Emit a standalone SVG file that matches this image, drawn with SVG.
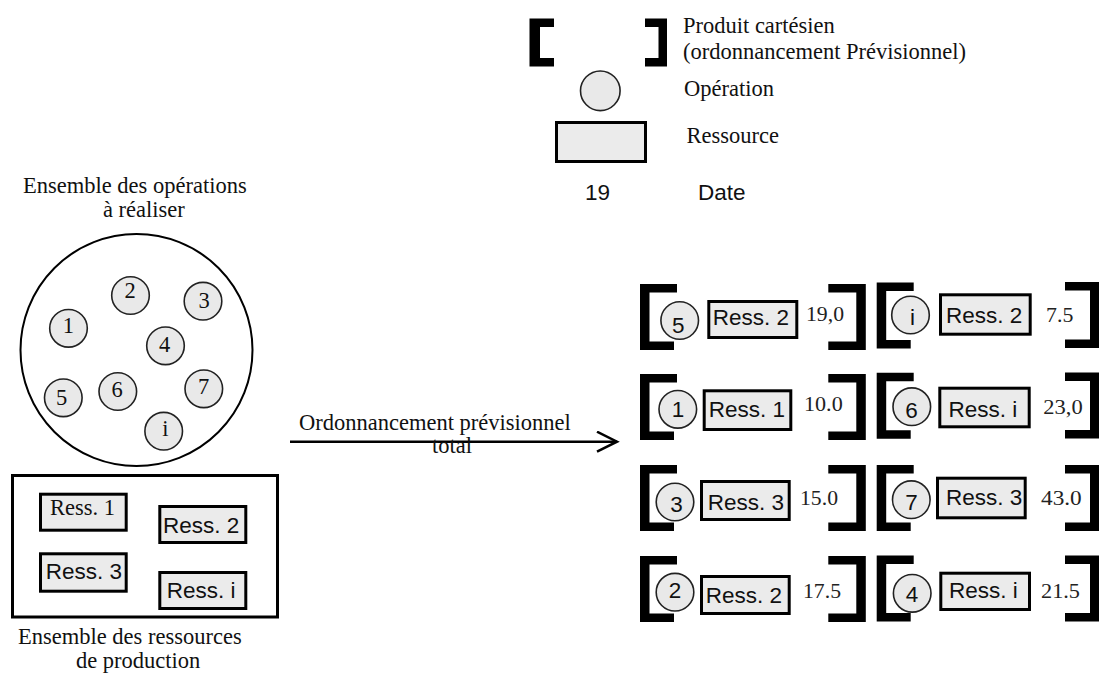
<svg xmlns="http://www.w3.org/2000/svg" width="1099" height="673" viewBox="0 0 1099 673">
  <style>
    .serif { font-family: "Liberation Serif", "Times New Roman", serif; font-size: 22.5px; fill: #111; }
    .sans { font-family: "Liberation Sans", Arial, sans-serif; font-size: 22.5px; fill: #111; }
    .date { font-family: "Liberation Serif", "Times New Roman", serif; font-size: 20px; fill: #222; }
    .op { fill: #e9e9e9; stroke: #222; stroke-width: 1.6; }
    .res { fill: #ebebeb; stroke: #000; stroke-width: 3; }
    .frame { fill: none; stroke: #000; stroke-width: 2; }
    .ink { fill: #000; }
    .mid { text-anchor: middle; }
    .link { fill: none; stroke: #000; stroke-width: 2.5; }
  </style>
  <defs>
    <!-- thick square brackets framing one planned (operation, resource, date) triple -->
    <path id="bl" d="M0,0 H37 V8.5 H9.5 V57.5 H34 V66 H0 Z"/>
    <path id="br" d="M0,0 H37.5 V66 H0 V57.5 H28 V8.5 H0 Z"/>
    <!-- right bracket of the last column, clipped by the page edge -->
    <path id="bre" d="M0,0 H34.5 V66 H0 V57.5 H25 V8.5 H0 Z"/>
    <marker id="chev" markerUnits="userSpaceOnUse" markerWidth="26" markerHeight="26" refX="21" refY="11" orient="auto">
      <path d="M1,1 L21,11 L1,21" fill="none" stroke="#000" stroke-width="2.5"/>
    </marker>
  </defs>
  <rect width="1099" height="673" fill="#fff"/>

  <!-- legend -->
  <g id="legend">
    <path class="ink" d="M529.5,18.5 H554 V27 H540 V58 H554 V66.5 H529.5 Z"/>
    <path class="ink" d="M645,18.5 H667 V66.5 H645 V58 H658.5 V27 H645 Z"/>
    <text class="serif" x="683" y="32.5">Produit cartésien</text>
    <text class="serif" x="683" y="58.5">(ordonnancement Prévisionnel)</text>
    <circle class="op" cx="600.3" cy="90.8" r="19.8"/>
    <text class="serif" x="684" y="96">Opération</text>
    <rect class="res" x="556.5" y="122.5" width="89" height="39"/>
    <text class="serif" x="686.5" y="143.3">Ressource</text>
    <text class="sans" x="585" y="199.5">19</text>
    <text class="sans" x="698" y="199.5">Date</text>
  </g>

  <!-- set of operations to schedule -->
  <g id="operations">
    <text class="serif" x="23" y="192.7">Ensemble des opérations</text>
    <text class="serif" x="103" y="217">à réaliser</text>
    <circle class="frame" cx="136.5" cy="350" r="116"/>
    <circle class="op" cx="68.5" cy="328.3" r="18.8"/><text class="serif mid" x="68.3" y="333.3">1</text>
    <circle class="op" cx="130.5" cy="295.5" r="18.8"/><text class="serif mid" x="130" y="298.3">2</text>
    <circle class="op" cx="203" cy="301.2" r="18.8"/><text class="serif mid" x="204.2" y="308.3">3</text>
    <circle class="op" cx="165.5" cy="345.8" r="18.8"/><text class="serif mid" x="164.5" y="351.7">4</text>
    <circle class="op" cx="63.3" cy="397.8" r="18.8"/><text class="serif mid" x="61.7" y="405">5</text>
    <circle class="op" cx="117.8" cy="391.5" r="18.8"/><text class="serif mid" x="117" y="397.3">6</text>
    <circle class="op" cx="203.8" cy="388.8" r="18.8"/><text class="serif mid" x="203.7" y="394">7</text>
    <circle class="op" cx="163.7" cy="431.2" r="18.8"/><text class="serif mid" x="165.5" y="436">i</text>
  </g>

  <!-- set of production resources -->
  <g id="resources">
    <rect x="12.5" y="475.5" width="265" height="141.5" fill="none" stroke="#000" stroke-width="3"/>
    <rect class="res" x="40.5" y="494.2" width="85.7" height="36"/><text class="serif" x="50" y="515">Ress. 1</text>
    <rect class="res" x="159.8" y="506.5" width="86" height="36"/><text class="sans" x="163" y="532.7">Ress. 2</text>
    <rect class="res" x="40.5" y="553.8" width="85.7" height="37.4"/><text class="sans" x="45.7" y="579">Ress. 3</text>
    <rect class="res" x="159.8" y="572.5" width="86" height="36"/><text class="sans" x="166.7" y="597.7">Ress. i</text>
    <text class="serif" x="18" y="644">Ensemble des ressources</text>
    <text class="serif" x="76" y="668">de production</text>
  </g>

  <!-- connector -->
  <g id="connectors">
    <line class="link" x1="290" y1="441.7" x2="617" y2="441.7" marker-end="url(#chev)"/>
    <text class="serif" x="299" y="430">Ordonnancement prévisionnel</text>
    <text class="serif" x="432" y="453">total</text>
  </g>

  <!-- planned schedule: column 1 -->
  <g id="plan-5">
    <use href="#bl" x="640" y="284"/><use href="#br" x="828.3" y="284"/>
    <circle class="op" cx="679.7" cy="320.5" r="18.8"/><text class="sans mid" x="678.3" y="333">5</text>
    <rect class="res" x="708.8" y="301.5" width="88" height="36"/><text class="sans mid" x="750.8" y="325">Ress. 2</text>
    <text class="date" x="806" y="320.7" textLength="38" lengthAdjust="spacingAndGlyphs">19,0</text>
  </g>
  <g id="plan-1">
    <use href="#bl" x="640" y="374"/><use href="#br" x="828.3" y="374"/>
    <circle class="op" cx="677.8" cy="409.3" r="18.8"/><text class="sans mid" x="678" y="416.7">1</text>
    <rect class="res" x="704.2" y="390.8" width="86.6" height="38.7"/><text class="sans mid" x="747" y="416.7">Ress. 1</text>
    <text class="date" x="804" y="411" textLength="38.7" lengthAdjust="spacingAndGlyphs">10.0</text>
  </g>
  <g id="plan-3">
    <use href="#bl" x="640" y="465"/><use href="#br" x="828.3" y="465"/>
    <circle class="op" cx="675" cy="502" r="18.8"/><text class="sans mid" x="676.5" y="511.7">3</text>
    <rect class="res" x="701.5" y="481.5" width="87.7" height="38"/><text class="sans mid" x="745.8" y="510">Ress. 3</text>
    <text class="date" x="800" y="505" textLength="38" lengthAdjust="spacingAndGlyphs">15.0</text>
  </g>
  <g id="plan-2">
    <use href="#bl" x="640" y="556"/><use href="#br" x="828.3" y="556"/>
    <circle class="op" cx="675" cy="592.2" r="18.8"/><text class="sans mid" x="675" y="598.3">2</text>
    <rect class="res" x="701.5" y="576.5" width="87.7" height="37"/><text class="sans mid" x="743.8" y="603.3">Ress. 2</text>
    <text class="date" x="803" y="598" textLength="38" lengthAdjust="spacingAndGlyphs">17.5</text>
  </g>

  <!-- planned schedule: column 2 -->
  <g id="plan-i">
    <use href="#bl" x="876.7" y="282.5"/><use href="#bre" x="1065" y="282"/>
    <circle class="op" cx="910.5" cy="315" r="18.8"/><text class="sans mid" x="912.5" y="325">i</text>
    <rect class="res" x="940.5" y="294.8" width="89.7" height="39.4"/><text class="sans mid" x="984.2" y="323.3">Ress. 2</text>
    <text class="date" x="1046" y="321.7" textLength="27.3" lengthAdjust="spacingAndGlyphs">7.5</text>
  </g>
  <g id="plan-6">
    <use href="#bl" x="876.7" y="372.7"/><use href="#bre" x="1065" y="372.5"/>
    <circle class="op" cx="911.8" cy="406.7" r="18.8"/><text class="sans mid" x="911.5" y="418.3">6</text>
    <rect class="res" x="939.8" y="388.2" width="89.4" height="38.6"/><text class="sans mid" x="983" y="416.7">Ress. i</text>
    <text class="date" x="1043.3" y="414" textLength="39.4" lengthAdjust="spacingAndGlyphs">23,0</text>
  </g>
  <g id="plan-7">
    <use href="#bl" x="876.7" y="465"/><use href="#bre" x="1065" y="465"/>
    <circle class="op" cx="911.3" cy="499.7" r="18.8"/><text class="sans mid" x="911.5" y="510">7</text>
    <rect class="res" x="937.5" y="478.2" width="87.7" height="39.6"/><text class="sans mid" x="984.2" y="505">Ress. 3</text>
    <text class="date" x="1041" y="505" textLength="40.7" lengthAdjust="spacingAndGlyphs">43.0</text>
  </g>
  <g id="plan-4">
    <use href="#bl" x="876.7" y="555.5"/><use href="#bre" x="1065" y="555.5"/>
    <circle class="op" cx="912.2" cy="593.3" r="18.8"/><text class="sans mid" x="912" y="601.7">4</text>
    <rect class="res" x="940.8" y="573.2" width="88.7" height="36.3"/><text class="sans mid" x="983.3" y="598.3">Ress. i</text>
    <text class="date" x="1041" y="598" textLength="39" lengthAdjust="spacingAndGlyphs">21.5</text>
  </g>
</svg>
